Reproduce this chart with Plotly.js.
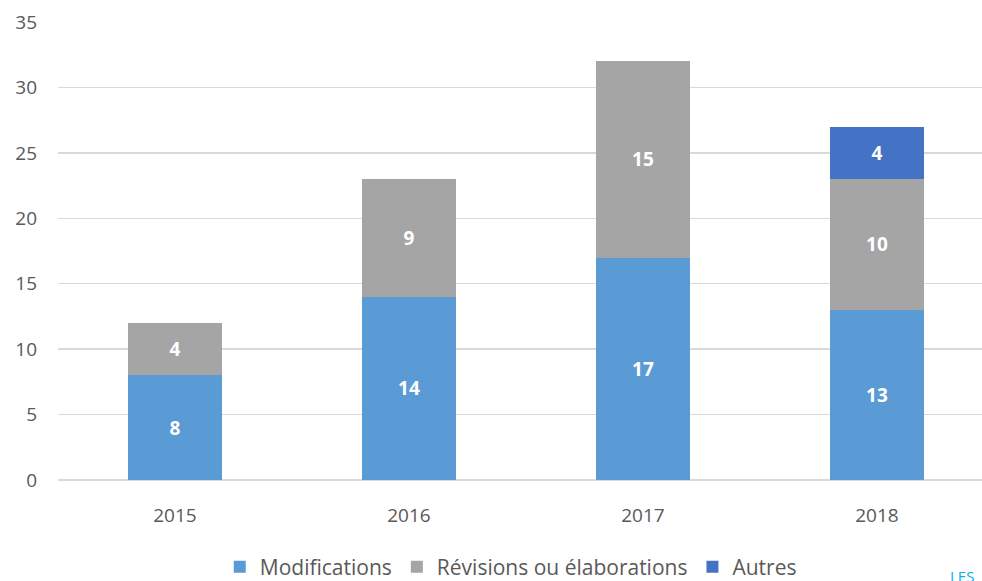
<!DOCTYPE html>
<html><head><meta charset="utf-8">
<script src="https://cdn.plot.ly/plotly-3.0.1.min.js"></script>
<style>html,body{margin:0;padding:0;background:#fff;}#chart{width:982px;height:581px;}</style>
</head><body><div id="chart"></div>
<script>
const years = ['2015', '2016', '2017', '2018'];
const modifications = [8, 14, 17, 13];
const revisions = [4, 9, 15, 10];
const autres = [null, null, null, 4];
const seriesNames = ['Modifications', 'Révisions ou élaborations', 'Autres'];
const yTicks = [0, 5, 10, 15, 20, 25, 30, 35];

const colors = ['#5b9bd5', '#a5a5a5', '#4472c4'];
const vals = [modifications, revisions, autres];
const traces = vals.map((v, i) => ({
  type: 'bar', x: years, y: v, name: seriesNames[i],
  marker: {color: colors[i]},
  text: v.map(d => d == null ? '' : String(d)),
  textposition: 'inside', insidetextanchor: 'middle',
  textfont: {color: '#ffffff', size: 19, family: 'Open Sans', weight: 'bold'},
  constraintext: 'none',
  hoverinfo: 'skip'
}));

const layout = {
  width: 982, height: 581,
  margin: {l: 58, r: 0, t: 22, b: 101, autoexpand: false},
  barmode: 'stack', bargap: 0.6,
  paper_bgcolor: '#ffffff', plot_bgcolor: '#ffffff',
  font: {family: 'Open Sans', color: '#595959', size: 18},
  xaxis: {type: 'category', range: [-0.5, 3.449], showgrid: false, showline: false,
    ticks: '', tickfont: {size: 19, color: '#595959'}, ticklabelstandoff: 22, fixedrange: true, automargin: false},
  yaxis: {range: [0, 35], tickvals: yTicks, showgrid: true, gridcolor: '#d9d9d9', gridwidth: 1.5,
    zeroline: true, zerolinecolor: '#d9d9d9', zerolinewidth: 1.5, ticks: '',
    tickfont: {size: 19, color: '#595959'}, ticklabelstandoff: 20, fixedrange: true, automargin: false},
  showlegend: true,
  legend: {orientation: 'h', x: 0.49, xanchor: 'center', y: -0.19, yanchor: 'middle',
    bgcolor: 'rgba(0,0,0,0)', font: {size: 21, color: '#595959'}, traceorder: 'normal', itemwidth: 30},
  annotations: [{text: 'LES', xref: 'paper', yref: 'paper', x: 0.978, y: -0.183, xanchor: 'center', yanchor: 'top',
    showarrow: false, font: {size: 15, color: '#00b0f0'}}]
};
Plotly.newPlot('chart', traces, layout, {displayModeBar: false, staticPlot: true});
</script></body></html>
